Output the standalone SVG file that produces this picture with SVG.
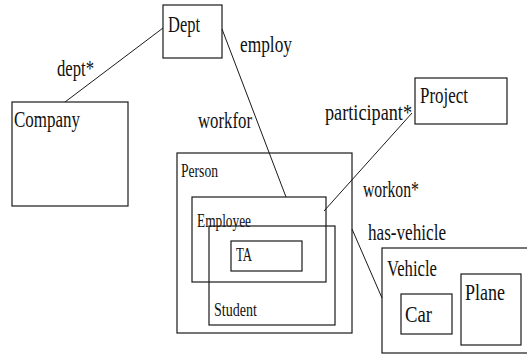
<svg xmlns="http://www.w3.org/2000/svg" width="527" height="356" viewBox="0 0 527 356">
  <style>
    .box { fill: none; stroke: #1a1a1a; stroke-width: 1.2; }
    .edge { fill: none; stroke: #1a1a1a; stroke-width: 1; }
  </style>
  <rect width="527" height="356" fill="#ffffff"/>

  <!-- associations between classes -->
  <g id="connectors">
    <line class="edge" x1="65" y1="102" x2="163" y2="28"/>
    <line class="edge" x1="222" y1="29" x2="286" y2="197"/>
    <line class="edge" x1="412" y1="113" x2="324" y2="211"/>
    <line class="edge" x1="352" y1="229" x2="382" y2="298"/>
    <g font-family="Liberation Serif, serif" font-size="23" fill="#111">
      <text x="57" y="76" textLength="37" lengthAdjust="spacingAndGlyphs">dept*</text>
      <text x="240" y="52" textLength="52" lengthAdjust="spacingAndGlyphs">employ</text>
      <text x="198" y="128" textLength="54" lengthAdjust="spacingAndGlyphs">workfor</text>
      <text x="325" y="120" textLength="87" lengthAdjust="spacingAndGlyphs">participant*</text>
      <text x="363" y="197" textLength="56" lengthAdjust="spacingAndGlyphs">workon*</text>
      <text x="368" y="240" textLength="78" lengthAdjust="spacingAndGlyphs">has-vehicle</text>
    </g>
  </g>

  <g font-family="Liberation Serif, serif" font-size="23" fill="#111">
    <g id="dept">
      <rect class="box" x="163" y="5" width="59" height="53"/>
      <text x="168" y="32" textLength="32" lengthAdjust="spacingAndGlyphs">Dept</text>
    </g>

    <g id="company">
      <rect class="box" x="12" y="102" width="116" height="104"/>
      <text x="14" y="127" textLength="66" lengthAdjust="spacingAndGlyphs">Company</text>
    </g>

    <g id="project">
      <rect class="box" x="415" y="78" width="92" height="46"/>
      <text x="420" y="103" textLength="48" lengthAdjust="spacingAndGlyphs">Project</text>
    </g>

    <g id="person">
      <rect class="box" x="177" y="153" width="175" height="180"/>
      <text font-size="18" x="181" y="177" textLength="37" lengthAdjust="spacingAndGlyphs">Person</text>
    </g>

    <g id="employee">
      <rect class="box" x="192" y="197" width="134" height="85"/>
      <text font-size="18" x="197" y="227" textLength="54" lengthAdjust="spacingAndGlyphs">Employee</text>
    </g>

    <g id="student">
      <rect class="box" x="209" y="226" width="126" height="99"/>
      <text font-size="18" x="214" y="316" textLength="43" lengthAdjust="spacingAndGlyphs">Student</text>
    </g>

    <g id="ta">
      <rect class="box" x="231" y="241" width="71" height="30"/>
      <text font-size="18" x="236" y="261" textLength="16" lengthAdjust="spacingAndGlyphs">TA</text>
    </g>

    <g id="vehicle">
      <rect class="box" x="382" y="248" width="160" height="105"/>
      <text x="387" y="276" textLength="50" lengthAdjust="spacingAndGlyphs">Vehicle</text>
    </g>

    <g id="car">
      <rect class="box" x="401" y="294" width="51" height="40"/>
      <text x="405" y="322" textLength="27" lengthAdjust="spacingAndGlyphs">Car</text>
    </g>

    <g id="plane">
      <rect class="box" x="461" y="274" width="60" height="71"/>
      <text x="465" y="300" textLength="40" lengthAdjust="spacingAndGlyphs">Plane</text>
    </g>
  </g>
</svg>
